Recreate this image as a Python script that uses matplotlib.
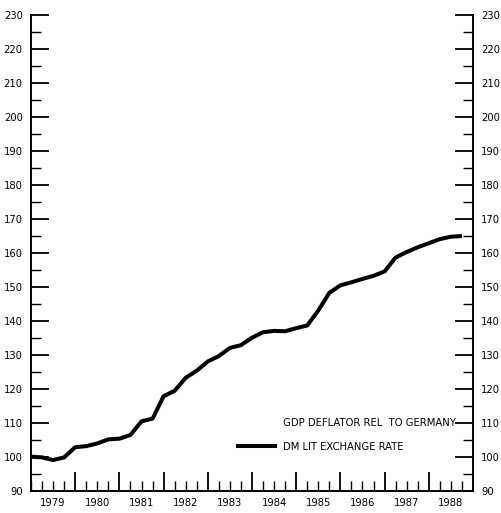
import matplotlib
matplotlib.use("Agg")
import matplotlib.pyplot as plt
from matplotlib.lines import Line2D
from matplotlib.ticker import MultipleLocator

plt.rcParams['font.family'] = ['DejaVu Sans']
plt.rcParams['font.stretch'] = 'condensed'

# quarterly index, 1979 Q1 = 100
dates = [1979 + q / 4 for q in range(40)]
dm_lit = [100.0, 99.8, 99.0, 99.8, 102.8, 103.1, 103.9, 105.1,
          105.3, 106.4, 110.4, 111.2, 117.8, 119.4, 123.2, 125.3,
          128.0, 129.6, 132.0, 132.8, 135.0, 136.6, 137.0, 136.9,
          137.8, 138.6, 143.0, 148.2, 150.4, 151.3, 152.3, 153.2,
          154.5, 158.6, 160.2, 161.6, 162.8, 164.0, 164.7, 164.9]
years = list(range(1979, 1989))

fig = plt.figure(figsize=(5.02, 5.13), dpi=100)
ax = fig.add_axes([0.0618, 0.0435, 0.8804, 0.9278])

ax.plot(dates, dm_lit, color='black', lw=2.9, solid_joinstyle='round',
        solid_capstyle='butt')

ax.set_xlim(1979, 1989)
ax.set_ylim(90, 230)

for side in ['left', 'right', 'bottom']:
    ax.spines[side].set_linewidth(1.4)
ax.spines['top'].set_visible(False)

ax.yaxis.set_major_locator(MultipleLocator(10))
ax.yaxis.set_minor_locator(MultipleLocator(5))
ax.tick_params(axis='y', which='both', direction='in', left=True, right=True,
               labelleft=True, labelright=True, labelsize=8, pad=6, width=1.3)
ax.tick_params(axis='y', which='major', length=13)
ax.tick_params(axis='y', which='minor', length=7, width=1.0)

# year boundaries get long ticks, quarters short ones
ax.set_xticks(years[1:])
ax.set_xticks(dates, minor=True)
ax.tick_params(axis='x', which='both', direction='in', labelbottom=False,
               top=False, width=1.3)
ax.tick_params(axis='x', which='major', length=14)
ax.tick_params(axis='x', which='minor', length=7, width=1.0)

for yr in years:
    ax.text(yr + 0.5, -0.015, str(yr), transform=ax.get_xaxis_transform(),
            ha='center', va='top', fontsize=8)

handles = [Line2D([], [], linestyle='none'),
           Line2D([], [], color='black', lw=2.9)]
labels = ['GDP DEFLATOR REL  TO GERMANY', 'DM LIT EXCHANGE RATE']
ax.legend(handles, labels, loc='upper left', bbox_to_anchor=(0.468, 0.152),
          frameon=False, fontsize=8, handlelength=3.3, handletextpad=0.8,
          labelspacing=1.2, borderpad=0, borderaxespad=0)

fig.savefig('out.png', dpi=100)
